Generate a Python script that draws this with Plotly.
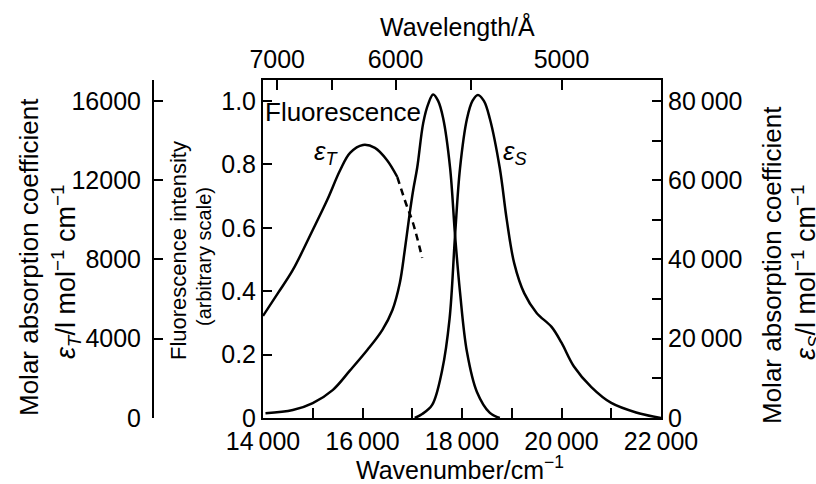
import plotly.graph_objects as go

# fluorescence (relative intensity) vs wavenumber / cm-1
fl_wn = [14050, 14600, 15000, 15400, 15750, 16100, 16400, 16600, 16750, 16850,
         16950, 17020, 17100, 17220, 17320, 17420, 17520, 17620, 17760, 17860,
         17960, 18100, 18300, 18560, 18760]
fl_int = [0.015, 0.025, 0.047, 0.088, 0.15, 0.215, 0.278, 0.34, 0.426, 0.53,
          0.647, 0.72, 0.79, 0.93, 0.99, 1.02, 1.0, 0.946, 0.79, 0.577,
          0.397, 0.208, 0.082, 0.016, 0.0]

# singlet absorption eps_S / l mol-1 cm-1
es_wn = [17050, 17200, 17400, 17600, 17750, 17860, 17960, 18100, 18210, 18320,
         18440, 18560, 18760, 18900, 19050, 19250, 19500, 19800, 20000, 20250,
         20600, 21000, 21500, 22000]
es_val = [0, 1000, 3300, 12000, 25000, 46000, 63000, 75500, 80000, 81500,
          80000, 75500, 63000, 50000, 39000, 31500, 26500, 23000, 19000, 13000,
          7800, 3800, 1400, 0]

# triplet absorption eps_T, measured part and extrapolated (dashed) part
et_wn = [14000, 14300, 14600, 15000, 15290, 15550, 15750, 16010, 16250, 16490, 16700]
et_val = [5150, 6300, 7470, 9490, 11000, 12500, 13380, 13780, 13630, 13020, 12160]
etd_wn = [16700, 16870, 17015, 17200]
etd_val = [12160, 10850, 9840, 8080]

# axis ticks
wn_ticks = [14000, 16000, 18000, 20000, 22000]
wn_labels = ["14\u2009000", "16\u2009000", "18\u2009000", "20\u2009000", "22\u2009000"]
wl_ticks = [7000, 6500, 6000, 5500, 5000]
wl_labels = ["7000", "", "6000", "", "5000"]
fl_ticks = [0, 0.2, 0.4, 0.6, 0.8, 1.0]
fl_labels = ["0", "0.2", "0.4", "0.6", "0.8", "1.0"]
es_ticks = [0, 20000, 40000, 60000, 80000]
es_labels = ["0", "20\u2009000", "40\u2009000", "60\u2009000", "80\u2009000"]
et_ticks = [0, 4000, 8000, 12000, 16000]
et_labels = ["0", "4000", "8000", "12000", "16000"]

W, H = 816, 484
L, R, T, B = 153, 155, 80, 66
PW, PH = W - L - R, H - T - B
TOP = 1.066  # fluorescence value at top of frame
FONT = "Liberation Sans, Arial, sans-serif"


def px(x):
    return (x - L) / PW


def py(y):
    return (T + PH - y) / PH


line = dict(color="black", width=2.5)
fig = go.Figure()
fig.add_trace(go.Scatter(x=fl_wn, y=fl_int, mode="lines", line=dict(line, shape="spline"),
                         xaxis="x", yaxis="y"))
fig.add_trace(go.Scatter(x=es_wn, y=es_val, mode="lines", line=dict(line, shape="spline"),
                         xaxis="x", yaxis="y2"))
fig.add_trace(go.Scatter(x=et_wn, y=et_val, mode="lines", line=dict(line, shape="spline"),
                         xaxis="x", yaxis="y3"))
fig.add_trace(go.Scatter(x=etd_wn, y=etd_val, mode="lines",
                         line=dict(line, shape="spline", dash="7px,5px"),
                         xaxis="x", yaxis="y3"))
# invisible point so the top (wavelength) axis is drawn
fig.add_trace(go.Scatter(x=[14000], y=[0], mode="markers", marker=dict(opacity=0),
                         xaxis="x2", yaxis="y", hoverinfo="skip"))

ax = dict(showgrid=False, zeroline=False, showline=True, linecolor="black", linewidth=2,
          ticks="inside", tickcolor="black", tickwidth=2, ticklen=9, automargin=False,
          tickfont=dict(size=25, color="black", family=FONT))
xdom = [px(263), 1]

et_max = 16000 * TOP
fig.update_layout(
    width=W, height=H, margin=dict(l=L, r=R, t=T, b=B, autoexpand=False),
    paper_bgcolor="white", plot_bgcolor="white", showlegend=False,
    font=dict(family=FONT, color="black"),
    xaxis=dict(ax, domain=xdom, range=[14000, 22000], tickvals=wn_ticks, ticktext=wn_labels,
               ticklen=10, minor=dict(dtick=1000, ticks="inside", ticklen=10,
                                      tickcolor="black", tickwidth=2)),
    xaxis2=dict(ax, domain=xdom, range=[14000, 22000], overlaying="x", side="top", anchor="y",
                tickvals=[1e8 / w for w in wl_ticks], ticktext=wl_labels, ticklen=10),
    yaxis=dict(ax, range=[0, TOP], tickvals=fl_ticks, ticktext=fl_labels, anchor="x"),
    yaxis2=dict(ax, range=[0, 80000 * TOP], overlaying="y", side="right", anchor="x",
                tickvals=es_ticks, ticktext=es_labels,
                minor=dict(dtick=10000, ticks="inside", ticklen=9, tickcolor="black", tickwidth=2)),
    yaxis3=dict(ax, range=[0, et_max], overlaying="y", side="left", anchor="free", position=0,
                tickvals=et_ticks + [et_max], ticktext=et_labels + [""], ticklabelstandoff=6),
)

ann = [
    ("Wavelength/Å", 457, 26, 25, 0),
    ("Wavenumber/cm<sup>−1</sup>", 460, 468, 25, 0),
    ("Molar absorption coefficient", 29, 257, 26, -90),
    ("<i>ε</i><sub><i>T</i></sub>/l mol<sup>−1</sup> cm<sup>−1</sup>", 66, 272, 27, -90),
    ("Fluorescence intensity", 178, 251, 22, -90),
    ("(arbitrary scale)", 204, 257, 20, -90),
    ("Molar absorption coefficient", 772, 265, 26, -90),
    ("<i>ε</i><sub><i>S</i></sub>/l mol<sup>−1</sup> cm<sup>−1</sup>", 806, 272, 27, -90),
    ("Fluorescence", 343, 112, 26, 0),
    ("<i>ε</i><sub><i>T</i></sub>", 326, 152, 26, 0),
    ("<i>ε</i><sub><i>S</i></sub>", 515, 152, 26, 0),
]
for text, x, y, size, angle in ann:
    fig.add_annotation(text=text, x=px(x), y=py(y), xref="paper", yref="paper",
                       showarrow=False, textangle=angle, xanchor="center", yanchor="middle",
                       font=dict(size=size, color="black", family=FONT))

# page body margin would shift the figure by 8px
fig.write_html("out.html", config={"displayModeBar": False},
               post_script="document.body.style.margin='0';")
